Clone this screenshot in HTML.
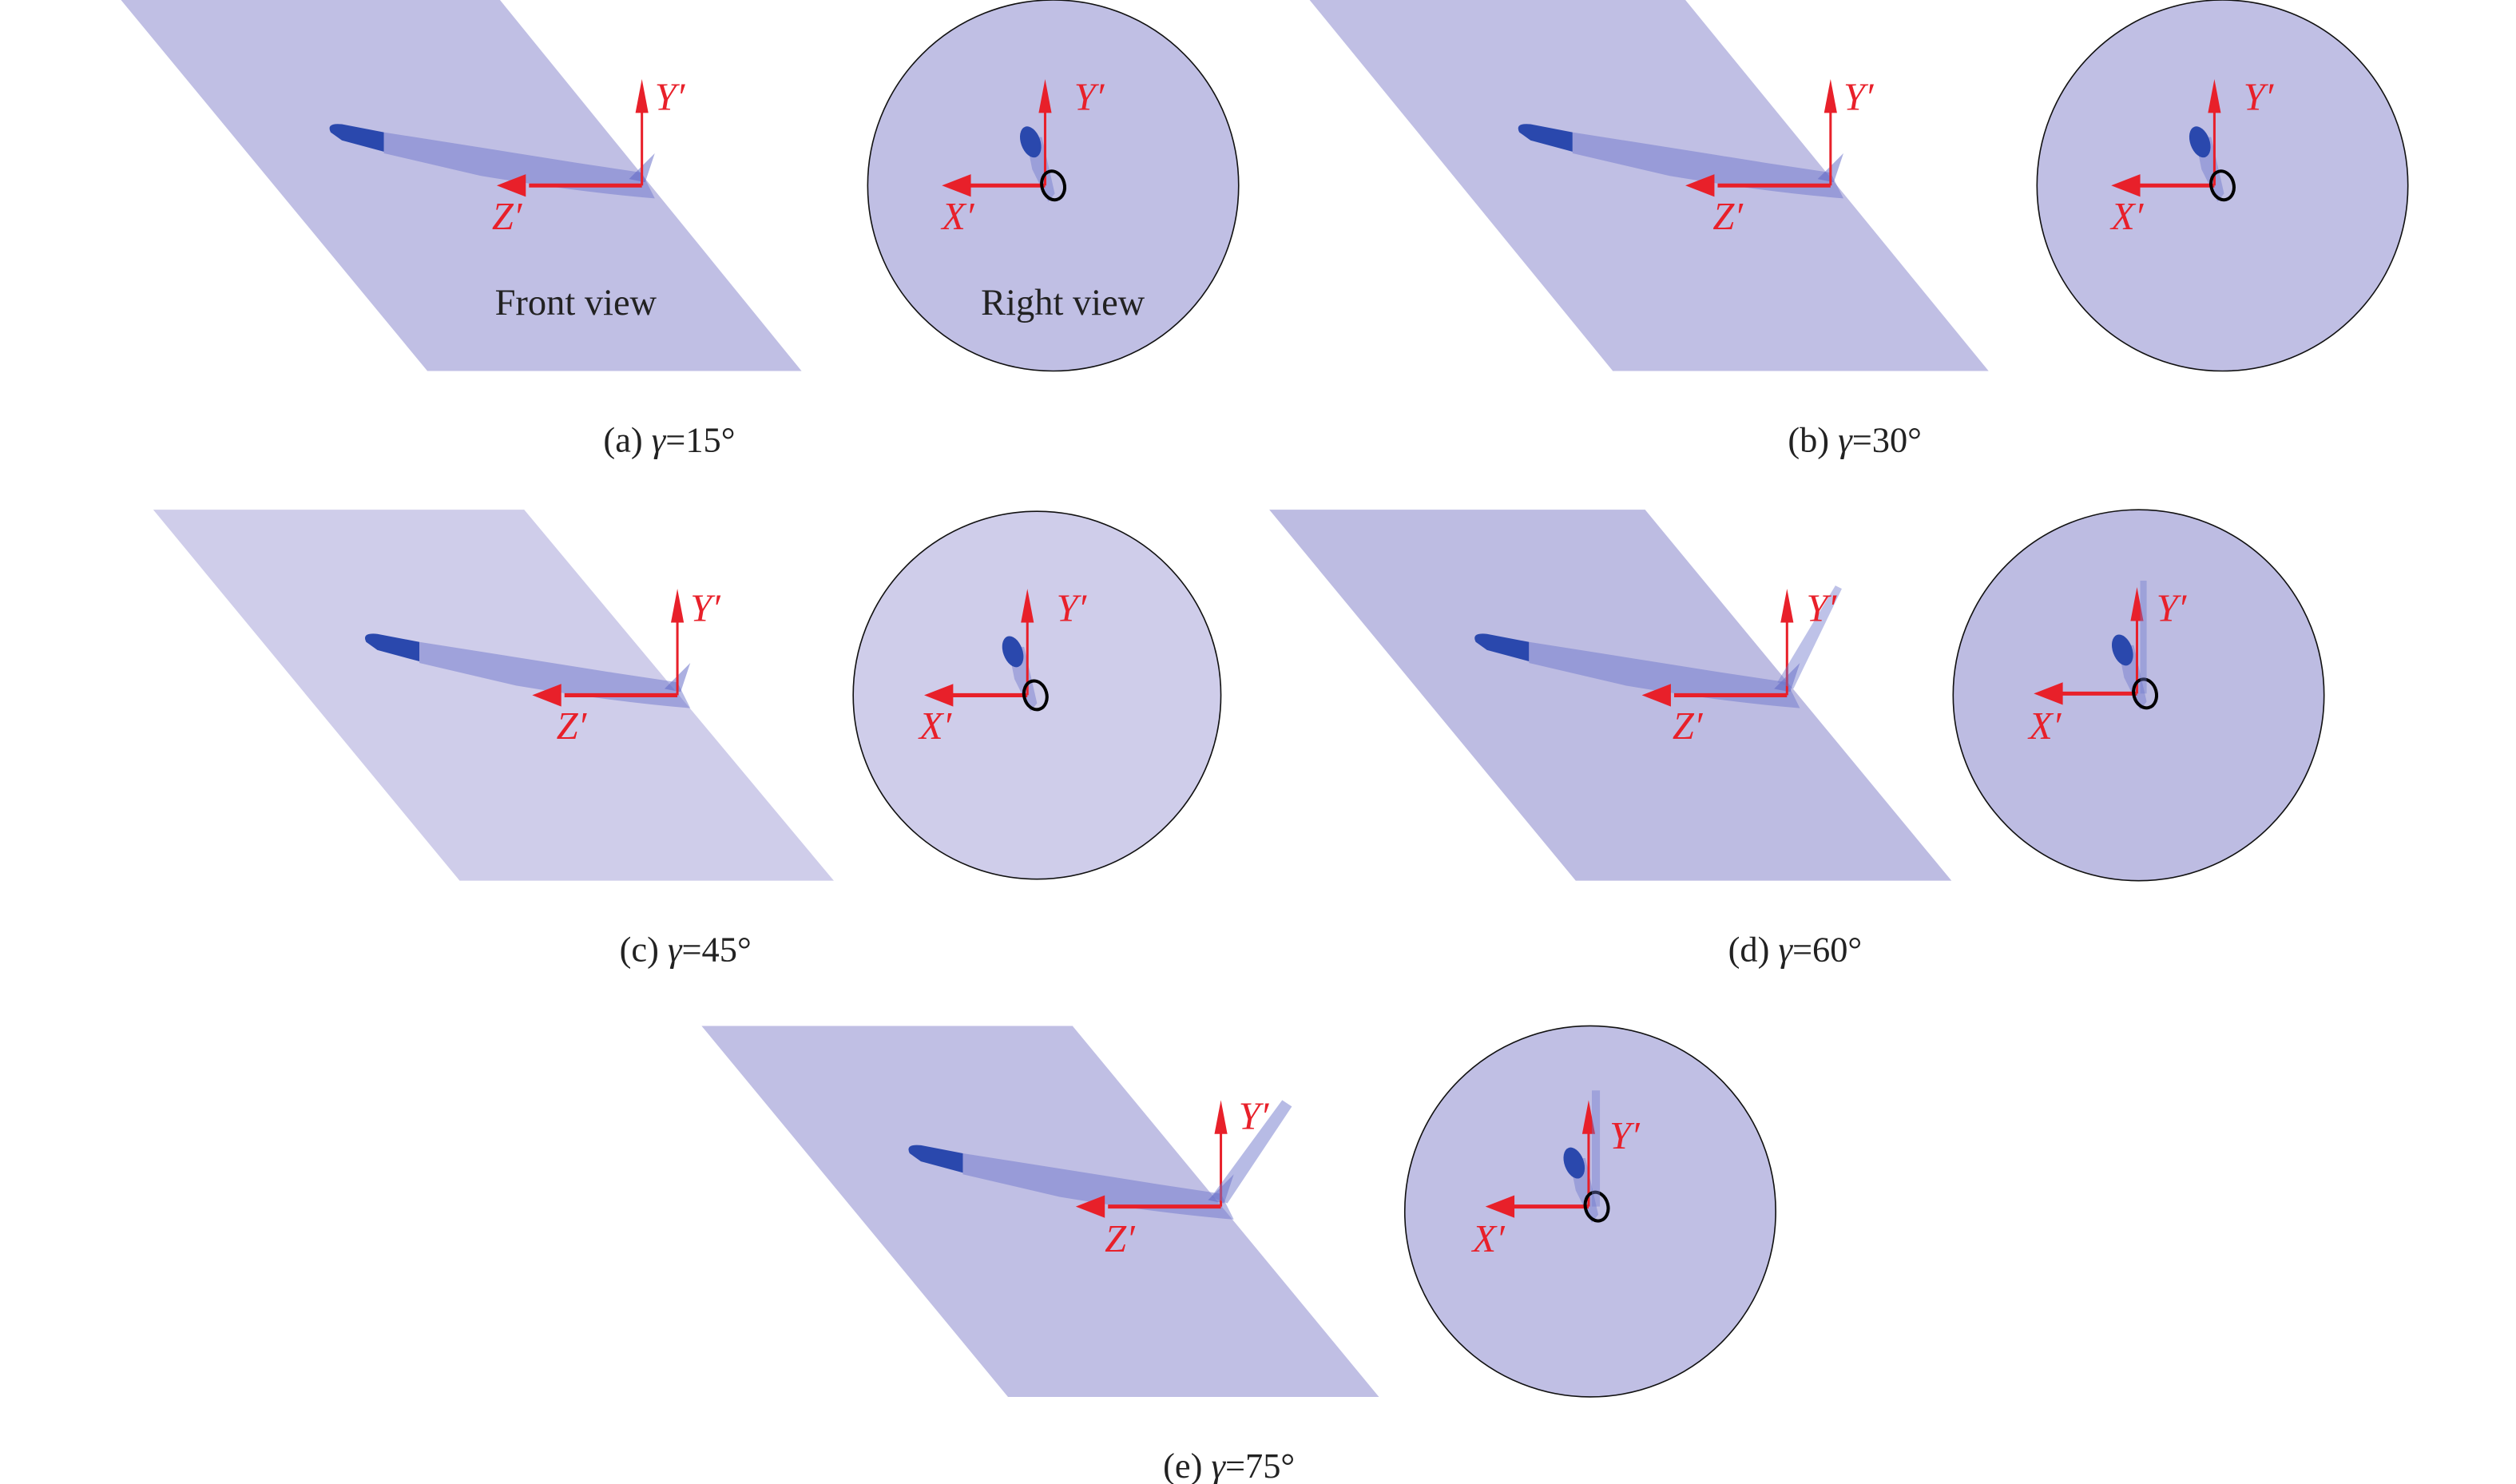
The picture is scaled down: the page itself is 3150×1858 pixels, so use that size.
<!DOCTYPE html>
<html><head><meta charset="utf-8"><style>
html,body{margin:0;padding:0;background:#fff;}
svg{display:block;}
text{font-family:"Liberation Serif",serif;}
.ax{fill:#e8202a;font-style:italic;font-size:24px;}
.lab{fill:#222;font-size:23px;}
.cap{fill:#222;font-size:22px;}
</style></head><body>
<svg width="3150" height="1858" viewBox="0 0 1560 920" preserveAspectRatio="none" xmlns="http://www.w3.org/2000/svg">
<defs>
<g id="fw">
 <path d="M-160,-33 Q-90,-22 -40,-14 L0,-8 L8,8 Q-40,4 -100,-6 L-160,-20 Z" fill="#6f78cc" opacity="0.5"/>
 <path d="M-193,-33 Q-196,-39 -186,-38 L-160,-33 L-160,-21 L-186,-28 Z" fill="#2a48ad"/>
 <path d="M-8,-4 L8,-20 L2,-2 Z" fill="#5a62c4" opacity="0.5"/>
</g>
<g id="axF">
 <line x1="0" y1="0" x2="0" y2="-52" stroke="#e8202a" stroke-width="1.5"/>
 <polygon points="-4,-45 4,-45 0,-66" fill="#e8202a"/>
 <line x1="0" y1="0" x2="-70" y2="0" stroke="#e8202a" stroke-width="2.5"/>
 <polygon points="-72,-7 -72,7 -90,0" fill="#e8202a"/>
</g>
<g id="rw">
 <path d="M-12,-30 L-2,-30 L6,5 L2,10 L-8,-10 Z" fill="#6f78cc" opacity="0.45"/>
 <ellipse cx="-9" cy="-27" rx="6" ry="10" transform="rotate(-20 -9 -27)" fill="#2a48ad"/>
</g>
<g id="axR">
 <line x1="0" y1="0" x2="0" y2="-52" stroke="#e8202a" stroke-width="1.5"/>
 <polygon points="-4,-45 4,-45 0,-66" fill="#e8202a"/>
 <line x1="0" y1="0" x2="-48" y2="0" stroke="#e8202a" stroke-width="2.5"/>
 <polygon points="-46,-7 -46,7 -64,0" fill="#e8202a"/>
 <ellipse cx="5" cy="0" rx="7" ry="9" transform="rotate(-15 5 0)" fill="none" stroke="#000" stroke-width="2"/>
</g>
</defs>

<!-- (a) -->
<polygon points="75,0 310,0 497,230 265,230" fill="#c0bfe4"/>
<circle cx="653" cy="115" r="115" fill="#c0bfe4" stroke="#111" stroke-width="0.8"/>
<g transform="translate(398,115)"><use href="#fw"/><use href="#axF"/></g>
<g transform="translate(648,115)"><use href="#rw"/><use href="#axR"/></g>
<text class="ax" x="406" y="68">Y′</text><text class="ax" x="305" y="142">Z′</text>
<text class="ax" x="666" y="68">Y′</text><text class="ax" x="584" y="142">X′</text>
<text class="lab" x="357" y="195" text-anchor="middle">Front view</text>
<text class="lab" x="659" y="195" text-anchor="middle">Right view</text>
<text class="cap" x="415" y="280" text-anchor="middle">(a) <tspan font-style="italic">γ</tspan>=15°</text>

<!-- (b) -->
<polygon points="812,0 1045,0 1233,230 1000,230" fill="#c0bfe4"/>
<circle cx="1378" cy="115" r="115" fill="#c0bfe4" stroke="#111" stroke-width="0.8"/>
<g transform="translate(1135,115)"><use href="#fw"/><use href="#axF"/></g>
<g transform="translate(1373,115)"><use href="#rw"/><use href="#axR"/></g>
<text class="ax" x="1143" y="68">Y′</text><text class="ax" x="1062" y="142">Z′</text>
<text class="ax" x="1391" y="68">Y′</text><text class="ax" x="1309" y="142">X′</text>
<text class="cap" x="1150" y="280" text-anchor="middle">(b) <tspan font-style="italic">γ</tspan>=30°</text>

<!-- (c) -->
<polygon points="95,316 325,316 517,546 285,546" fill="#cfcdea"/>
<circle cx="643" cy="431" r="114" fill="#cfcdea" stroke="#111" stroke-width="0.8"/>
<g transform="translate(420,431)"><use href="#fw"/><use href="#axF"/></g>
<g transform="translate(637,431)"><use href="#rw"/><use href="#axR"/></g>
<text class="ax" x="428" y="385">Y′</text><text class="ax" x="345" y="458">Z′</text>
<text class="ax" x="655" y="385">Y′</text><text class="ax" x="570" y="458">X′</text>
<text class="cap" x="425" y="596" text-anchor="middle">(c) <tspan font-style="italic">γ</tspan>=45°</text>

<!-- (d) -->
<polygon points="787,316 1020,316 1210,546 977,546" fill="#bdbce2"/>
<circle cx="1326" cy="431" r="115" fill="#bdbce2" stroke="#111" stroke-width="0.8"/>
<g transform="translate(1108,431)"><use href="#fw"/><use href="#axF"/>
 <path d="M-6,-8 L30,-68 L34,-66 L4,-4 Z" fill="#6f78cc" opacity="0.45"/></g>
<g transform="translate(1325,430)"><use href="#rw"/><use href="#axR"/>
 <path d="M2,-70 L6,-70 L6,0 L2,0 Z" fill="#6f78cc" opacity="0.4"/></g>
<text class="ax" x="1120" y="385">Y′</text><text class="ax" x="1037" y="458">Z′</text>
<text class="ax" x="1337" y="385">Y′</text><text class="ax" x="1258" y="458">X′</text>
<text class="cap" x="1113" y="596" text-anchor="middle">(d) <tspan font-style="italic">γ</tspan>=60°</text>

<!-- (e) -->
<polygon points="435,636 665,636 855,866 625,866" fill="#c0bfe4"/>
<circle cx="986" cy="751" r="115" fill="#c0bfe4" stroke="#111" stroke-width="0.8"/>
<g transform="translate(757,748)"><use href="#fw"/><use href="#axF"/>
 <path d="M-6,-6 L38,-66 L44,-62 L4,-2 Z" fill="#6f78cc" opacity="0.5"/></g>
<g transform="translate(985,748)"><use href="#rw"/><use href="#axR"/>
 <path d="M2,-72 L7,-72 L7,0 L2,0 Z" fill="#6f78cc" opacity="0.4"/></g>
<text class="ax" x="768" y="700">Y′</text><text class="ax" x="685" y="776">Z′</text>
<text class="ax" x="998" y="712">Y′</text><text class="ax" x="913" y="776">X′</text>
<text class="cap" x="762" y="916" text-anchor="middle">(e) <tspan font-style="italic">γ</tspan>=75°</text>
</svg>
</body></html>
